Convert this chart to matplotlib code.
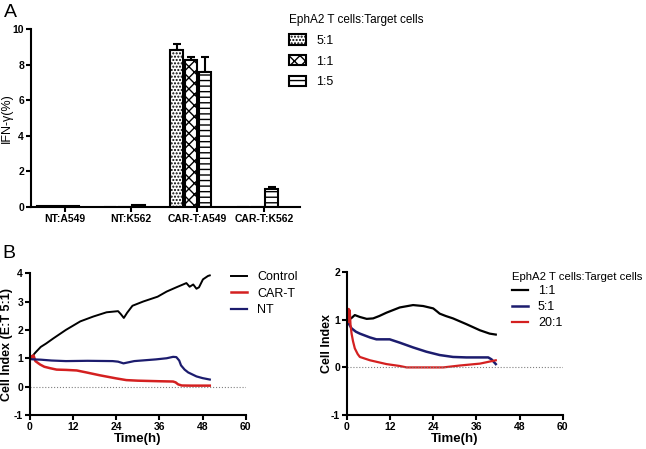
import numpy as np
import matplotlib
matplotlib.use("Agg")
import matplotlib.pyplot as plt
from matplotlib.patches import Patch

plt.rcParams['font.family'] = ['Liberation Sans', 'DejaVu Sans']
plt.rcParams['hatch.linewidth'] = 1.0
plt.rcParams['axes.unicode_minus'] = False

# panel A data
groups = ["NT:A549", "NT:K562", "CAR-T:A549", "CAR-T:K562"]
ratiosA = ["5:1", "1:1", "1:5"]
ifn_5to1 = [0.06, 0.0, 8.82, 0.0]
ifn_1to1 = [0.06, 0.0, 8.26, 0.0]
ifn_1to5 = [0.06, 0.10, 7.57, 1.02]
err_5to1 = [0.0, 0.0, 0.34, 0.0]
err_1to1 = [0.0, 0.0, 0.18, 0.0]
err_1to5 = [0.0, 0.0, 0.84, 0.08]

# panel B left data (E:T 5:1)
t_control = [0, 0.5, 1.5, 3, 4.5, 6.5, 10, 14, 17.6, 21.3, 24.5, 25.3, 26.1, 27, 28.5, 31.5, 35.5, 38, 40.7, 43.5, 44.4, 45.4, 46.3, 47, 48.1, 49.5, 50]
v_control = [1.0, 1.05, 1.2, 1.4, 1.52, 1.7, 2.0, 2.3, 2.47, 2.62, 2.66, 2.55, 2.42, 2.6, 2.85, 3.0, 3.17, 3.35, 3.5, 3.65, 3.52, 3.6, 3.45, 3.5, 3.78, 3.9, 3.92]
t_cart = [0, 0.3, 0.6, 1.0, 1.5, 2.8, 4, 5.6, 7.4, 10, 13, 15.7, 19.4, 24, 26.8, 30, 33, 36, 39.8, 40.5, 41.2, 42.2, 45, 50]
v_cart = [1.0, 1.08, 1.02, 1.1, 0.9, 0.78, 0.7, 0.65, 0.6, 0.59, 0.57, 0.5, 0.4, 0.29, 0.23, 0.21, 0.2, 0.19, 0.18, 0.15, 0.08, 0.04, 0.035, 0.035]
t_nt = [0, 1, 3, 6, 10, 16, 23, 24.5, 26, 27.5, 29, 32, 35, 38, 39.8, 40.7, 41.5, 42, 43, 44, 46.3, 48, 50]
v_nt = [0.97, 0.96, 0.95, 0.92, 0.9, 0.91, 0.9, 0.88, 0.82, 0.86, 0.9, 0.93, 0.96, 1.0, 1.05, 1.04, 0.92, 0.75, 0.6, 0.5, 0.36, 0.3, 0.25]

# panel B right data (ratios)
t_11 = [0, 0.5, 1.3, 2.2, 3.6, 5.5, 7.3, 9, 11, 14.7, 18.4, 21.2, 24, 25, 25.8, 27.5, 29.5, 33.2, 37, 39.7, 41.4]
v_11 = [0.99, 1.0, 1.04, 1.1, 1.06, 1.02, 1.03, 1.08, 1.15, 1.26, 1.31, 1.29, 1.24, 1.18, 1.13, 1.08, 1.03, 0.91, 0.78, 0.71, 0.69]
t_51 = [0, 0.5, 1.3, 2.5, 3.6, 6.4, 8.2, 11.9, 14.7, 18.4, 22.1, 25.8, 29.5, 33.2, 39.3, 40.2, 41.4]
v_51 = [1.0, 0.92, 0.82, 0.75, 0.71, 0.63, 0.59, 0.59, 0.52, 0.42, 0.33, 0.26, 0.22, 0.21, 0.21, 0.17, 0.07]
t_201 = [0, 0.2, 0.35, 0.5, 0.65, 0.8, 1.0, 1.3, 1.7, 2.2, 3, 3.6, 6.4, 11, 14.7, 16.6, 26.8, 31.4, 37, 41.4]
v_201 = [0.98, 1.15, 0.95, 1.23, 1.0, 1.2, 0.9, 0.71, 0.55, 0.4, 0.28, 0.22, 0.15, 0.07, 0.03, 0.0, 0.0, 0.04, 0.08, 0.15]

navy = "#1c1c6e"
red = "#d42020"


def style_axes(ax):
	ax.spines['top'].set_visible(False)
	ax.spines['right'].set_visible(False)
	ax.spines['left'].set_linewidth(1.5)
	ax.spines['bottom'].set_linewidth(1.5)
	ax.tick_params(width=1.5, length=3.5, pad=1.5, labelsize=7.5, direction='out')
	for lab in ax.get_xticklabels() + ax.get_yticklabels():
		lab.set_fontweight('bold')


fig = plt.figure(figsize=(6.46, 4.49), dpi=100)

# ---------- panel A ----------
axA = fig.add_axes([0.048, 0.539, 0.416, 0.396])
x = np.arange(len(groups))
w = 0.19
off = 0.215
hatches = ['.....', 'xxx', '---']
vals = [ifn_5to1, ifn_1to1, ifn_1to5]
errs = [err_5to1, err_1to1, err_1to5]
for k in range(3):
	xs = x + (k - 1) * off
	axA.bar(xs, vals[k], width=w, color='white', edgecolor='black', hatch=hatches[k], linewidth=1.5, zorder=2)
	for xi, v, e in zip(xs, vals[k], errs[k]):
		if e > 0:
			axA.errorbar(xi, v, yerr=[[0], [e]], color='black', capsize=3, elinewidth=1.5, capthick=1.5, zorder=1)
axA.set_xlim(-0.406, 3.64)
axA.set_ylim(0, 10)
axA.set_yticks([0, 2, 4, 6, 8, 10])
axA.set_xticks(x + 0.1)
axA.set_xticklabels(groups)
axA.set_ylabel("IFN-γ(%)", fontsize=9)
axA.yaxis.set_label_coords(-0.067, 0.5)
style_axes(axA)

handlesA = [Patch(facecolor='white', edgecolor='black', hatch=hatches[k], linewidth=1.5, label=ratiosA[k]) for k in range(3)]
fig.legend(handles=handlesA, title="EphA2 T cells:Target cells", loc='upper left',
	bbox_to_anchor=(0.447, 0.968), frameon=False, fontsize=9, title_fontsize=8.5,
	handlelength=1.4, handleheight=0.9, labelspacing=0.65, alignment='left',
	borderpad=0, borderaxespad=0)

fig.text(0.006, 0.99, "A", fontsize=14, va='top')
fig.text(0.004, 0.455, "B", fontsize=14, va='top')

# ---------- panel B left ----------
axB1 = fig.add_axes([0.0464, 0.0757, 0.334, 0.316])
axB1.plot(t_control, v_control, color='black', lw=1.4, label='Control')
axB1.plot(t_cart, v_cart, color=red, lw=1.8, label='CAR-T')
axB1.plot(t_nt, v_nt, color=navy, lw=1.6, label='NT')
axB1.plot([0, 60], [0, 0], color='gray', lw=0.8, ls=':')
axB1.set_xlim(0, 60)
axB1.set_ylim(-1, 4)
axB1.set_xticks([0, 12, 24, 36, 48, 60])
axB1.set_yticks([-1, 0, 1, 2, 3, 4])
axB1.set_xlabel("Time(h)", fontsize=9.5, fontweight='bold', labelpad=1)
axB1.set_ylabel("Cell Index (E:T 5:1)", fontsize=9, fontweight='bold')
axB1.yaxis.set_label_coords(-0.078, 0.5)
style_axes(axB1)
axB1.legend(loc='upper left', bbox_to_anchor=(0.88, 1.092), frameon=False, fontsize=9,
	handlelength=1.3, labelspacing=0.35)

# ---------- panel B right ----------
axB2 = fig.add_axes([0.537, 0.0757, 0.334, 0.318])
axB2.plot(t_11, v_11, color='black', lw=1.6, label='1:1')
axB2.plot(t_51, v_51, color=navy, lw=1.8, label='5:1')
axB2.plot(t_201, v_201, color=red, lw=1.6, label='20:1')
axB2.plot([0, 60], [0, 0], color='gray', lw=0.8, ls=':')
axB2.set_xlim(0, 60)
axB2.set_ylim(-1, 2)
axB2.set_xticks([0, 12, 24, 36, 48, 60])
axB2.set_yticks([-1, 0, 1, 2])
axB2.set_xlabel("Time(h)", fontsize=9.5, fontweight='bold', labelpad=1)
axB2.set_ylabel("Cell Index", fontsize=9, fontweight='bold')
axB2.yaxis.set_label_coords(-0.065, 0.5)
style_axes(axB2)
fig.legend(handles=axB2.get_lines()[:3], title="EphA2 T cells:Target cells", loc='upper left',
	bbox_to_anchor=(0.792, 0.395), frameon=False, fontsize=9, title_fontsize=8.2,
	handlelength=1.3, labelspacing=0.3, alignment='left', borderpad=0, borderaxespad=0)

fig.savefig("out.png", dpi=100)
